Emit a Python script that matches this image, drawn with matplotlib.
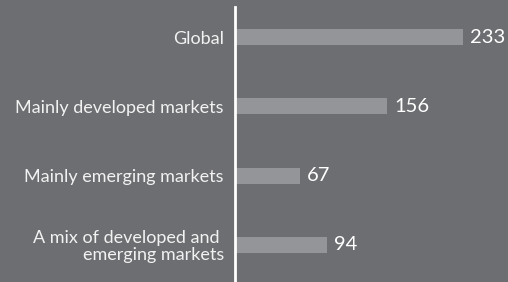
import matplotlib.pyplot as plt

categories = ["Global", "Mainly developed markets", "Mainly emerging markets",
              "A mix of developed and \nemerging markets"]
values = [233, 156, 67, 94]

bg = "#6d6e71"
bar_col = "#939598"

plt.rcParams['font.family'] = ['Lato', 'DejaVu Sans']

fig = plt.figure(figsize=(5.08, 2.82), dpi=100, facecolor=bg)
ax = fig.add_axes([235 / 508, 0, 273 / 508, 275 / 282])
ax.set_facecolor(bg)

pos = list(range(len(categories)))
ax.barh(pos, values, height=0.23, color=bar_col)
ax.set_xlim(0, 279.4)
ax.set_ylim(3.534, -0.433)

for p, v in zip(pos, values):
    ax.text(v + 7, p, str(v), color="white", fontsize=14.5, va="center", ha="left")

ax.set_yticks(pos)
ax.set_yticklabels(categories, color="#f2f2f2", fontsize=13, ha="right", linespacing=1.05)
ax.tick_params(axis="y", length=0, pad=8)
ax.set_xticks([])
for s in ["top", "right", "bottom"]:
    ax.spines[s].set_visible(False)
ax.spines["left"].set_color("white")
ax.spines["left"].set_linewidth(2)

fig.savefig("out.png", dpi=100, facecolor=bg)
